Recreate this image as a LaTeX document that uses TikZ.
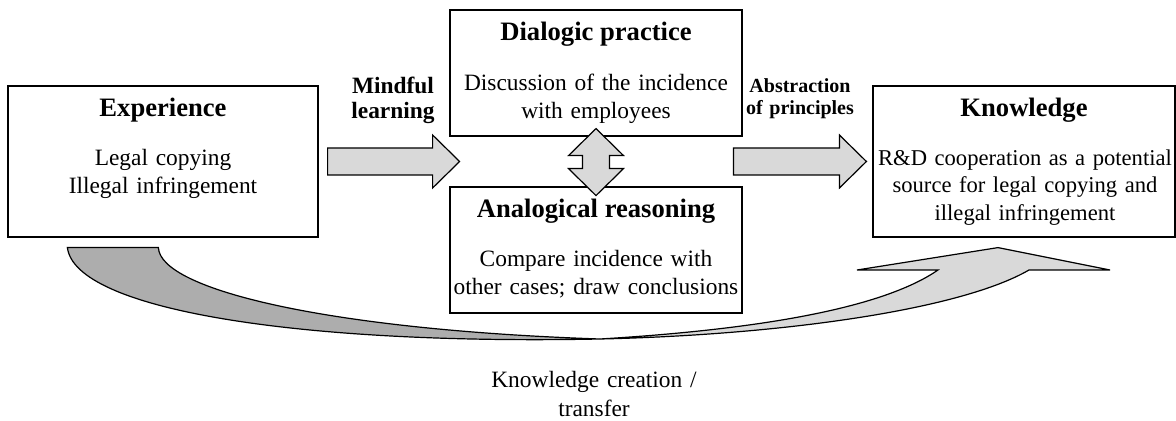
\documentclass[tikz,border=0pt]{standalone}
\usepackage{fontspec}
\setmainfont{Liberation Serif}
\usetikzlibrary{calc}
\definecolor{lightfill}{gray}{0.85}
\definecolor{darkfill}{gray}{0.68}

\begin{document}
\begin{tikzpicture}[x=0.5pt,y=-0.5pt,
  box/.style={draw,line width=0.6pt,inner sep=0pt},
  boxtitle/.style={anchor=base,inner sep=0pt,font=\fontsize{13.3}{16}\selectfont\bfseries},
  boxtext/.style={anchor=base,inner sep=0pt,text width=150pt,align=center,font=\fontsize{11.7}{14}\selectfont},
  steplabel/.style={anchor=base,inner sep=0pt,text width=70pt,align=center},
  blockarrow/.style={draw,line width=0.6pt,fill=lightfill,line join=miter}]
\useasboundingbox (0,0) rectangle (1176,421);
% the four boxes
\node[box,minimum width=155pt,minimum height=75.5pt] (exp) at (163,161.5) {};
\node[box,minimum width=146pt,minimum height=63pt] (dia) at (596,73) {};
\node[box,minimum width=146pt,minimum height=63pt] (ana) at (596,250) {};
\node[box,minimum width=151pt,minimum height=75.5pt] (kno) at (1024,161.5) {};
\node[boxtitle] (exptitle) at ($(exp.north)+(0,31)$) {Experience};
\node[boxtext] (exptext) at ($(exp.north)+(0,80)$) {Legal copying\\Illegal infringement};
\node[boxtitle] (diatitle) at ($(dia.north)+(0,31)$) {Dialogic practice};
\node[boxtext] (diatext) at ($(dia.north)+(0,81)$) {Discussion of the incidence\\with employees};
\node[boxtitle] (anatitle) at ($(ana.north)+(0,31)$) {Analogical reasoning};
\node[boxtext] (anatext) at ($(ana.north)+(0,80)$) {Compare incidence with\\other cases; draw conclusions};
\node[boxtitle] (knotitle) at ($(kno.north)+(0,31)$) {Knowledge};
\node[boxtext,text width=160pt,font=\fontsize{11.3}{13.8}\selectfont] (knotext) at ($(kno.north)+(1,80)$) {R\&D cooperation as a potential\\source for legal copying and\\illegal infringement};
% labels over the arrows
\node[steplabel,font=\fontsize{11.7}{12.5}\selectfont\bfseries] (mindful) at (393,94) {Mindful\\learning};
\node[steplabel,font=\fontsize{10}{11}\selectfont\bfseries] (abstraction) at (800,93) {Abstraction\\of principles};
% block arrows
\draw[blockarrow] ($(exp.east)+(9,-13.5)$) -- ++(105,0) -- ++(0,-13) -- ++(27,26.5)
  -- ++(-27,26.5) -- ++(0,-13) -- ++(-105,0) -- cycle;
\draw[blockarrow] ($(kno.west)+(-6,0)$) -- ++(-27,-26.5) -- ++(0,13) -- ++(-106,0)
  -- ++(0,27) -- ++(106,0) -- ++(0,13) -- cycle;
\draw[blockarrow] ($(dia.south)+(0,-8)$) -- ++(27.5,27) -- ++(-14,0) -- ++(0,13) -- ++(14,0)
  -- ++(-27.5,27) -- ++(-27.5,-27) -- ++(14,0) -- ++(0,-13) -- ++(-14,0) -- cycle;
% curved arrow underneath
\coordinate (tail) at ($(exp.south west)+(60,10)$);
\coordinate (tip) at ($(kno.south)+(-26,10)$);
\coordinate (bend) at (600,339);
\draw[blockarrow,fill=darkfill] (tail) -- ++(91,0) .. controls (160,290) and (330,330) .. (bend)
  .. controls (300,345) and (75,310) .. (tail) -- cycle;
\draw[blockarrow] (bend) .. controls (750,330) and (880,310) .. (938,270) -- (857,270) -- (tip)
  -- (1110,270) -- (1029,270) .. controls (960,310) and (780,335) .. (bend) -- cycle;
\node[boxtext] (transfer) at (594,388) {Knowledge creation /\\transfer};
\end{tikzpicture}
\end{document}
